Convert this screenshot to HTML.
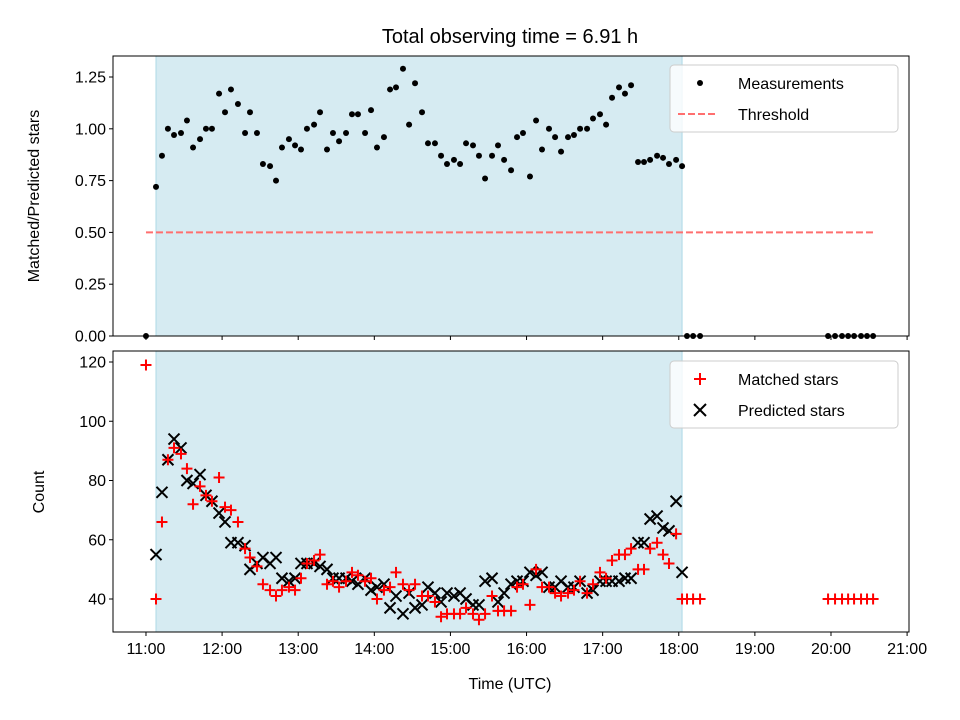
<!DOCTYPE html>
<html><head><meta charset="utf-8"><style>
html,body{margin:0;padding:0;background:#fff;}
svg{display:block;font-family:"Liberation Sans","DejaVu Sans",sans-serif;}
</style></head><body>
<svg id="chart" width="960" height="720" viewBox="0 0 960 720"></svg>
<script>
// minutes after 11:00 UTC
const times = [0,7.9,12.6,17.3,22.1,27.6,32.3,37.1,42.6,47.3,52.0,57.6,62.3,67.0,72.5,78.1,82.0,87.5,92.2,97.8,102.5,107.2,112.7,117.5,122.2,126.9,132.5,137.2,142.7,147.4,152.2,157.7,162.4,167.1,172.7,177.4,182.1,187.6,192.4,197.1,202.6,207.4,212.1,217.6,222.3,227.8,232.6,237.3,242.8,247.6,252.3,257.8,262.5,267.3,272.8,277.5,282.3,287.8,292.5,297.2,302.7,307.5,312.2,317.7,322.5,327.2,332.7,337.4,342.2,347.7,352.4,357.9,362.7,367.4,372.9,377.6,382.4,387.9,392.6,397.4,402.9,407.6,412.3,417.9,422.6,426.5,431.3,436.8,537.7,543.2,548.7,553.5,558.2,563.7,568.4,573.2];
const ratios = [0,0.72,0.87,1.0,0.97,0.98,1.04,0.91,0.95,1.0,1.0,1.17,1.08,1.19,1.12,0.98,1.08,0.98,0.83,0.82,0.75,0.91,0.95,0.92,0.90,1.0,1.02,1.08,0.90,0.98,0.94,0.98,1.07,1.07,0.98,1.09,0.91,0.96,1.19,1.20,1.29,1.02,1.22,1.08,0.93,0.93,0.87,0.83,0.85,0.83,0.93,0.92,0.87,0.76,0.87,0.92,0.85,0.80,0.96,0.98,0.77,1.04,0.90,1.0,0.96,0.89,0.96,0.97,1.0,1.0,1.05,1.07,1.02,1.15,1.20,1.17,1.21,0.84,0.84,0.85,0.87,0.86,0.83,0.85,0.82,0,0,0,0,0,0,0,0,0,0,0];
const matched = [119,40,66,87,91,89,84,72,78,75,73,81,71,70,66,57,54,51,45,43,41,43,44,43,47,52,53,55,45,46,44,46,49,48,46,47,40,43,44,49,45,43,45,41,41,39,34,35,35,35,37,35,33,35,41,36,36,36,44,45,38,50,44,44,42,41,42,43,46,42,45,49,47,53,55,55,57,50,50,57,59,55,52,62,40,40,40,40,40,40,40,40,40,40,40,40];
const predicted = [null,55,76,87,94,91,80,79,82,75,73,69,66,59,59,58,50,52,54,52,54,47,46,47,52,52,52,51,50,47,47,47,46,45,47,43,44,45,37,41,35,42,37,38,44,42,39,42,41,42,40,38,38,46,47,39,42,45,46,46,49,48,49,44,44,46,44,44,46,42,43,46,46,46,46,47,47,59,59,67,68,64,63,73,49,null,null,null,null,null,null,null,null,null,null,null];
const shadeStart = 7.9, shadeEnd = 422.6, threshold = 0.5, thrStart = 0, thrEnd = 573.2;
const xTickLabels = ["11:00","12:00","13:00","14:00","15:00","16:00","17:00","18:00","19:00","20:00","21:00"];
const topTicks = [0,0.25,0.5,0.75,1.0,1.25];
const botTicks = [40,60,80,100,120];

const NS="http://www.w3.org/2000/svg";
const svg=document.getElementById('chart');
function mk(tag,attrs,parent){const e=document.createElementNS(NS,tag);for(const k in attrs)e.setAttribute(k,attrs[k]);(parent||svg).appendChild(e);return e;}
const L=113,R=909;
const xMin=-26.0,xMax=601.5;
const X=m=>L+(m-xMin)/(xMax-xMin)*(R-L);
const T1=56,B1=336,T2=351,B2=632;
const Y1=v=>B1-(v-0)/(1.3514-0)*(B1-T1);
const Y2=v=>599-(v-40)*(237/80);

let t=mk('text',{x:510,y:43,'font-size':20,'text-anchor':'middle',fill:'#000'});t.textContent='Total observing time = 6.91 h';



function panel(T,B,name){
  const g=mk('g',{});
  
  
  const sh=mk('rect',{x:X(shadeStart),y:T,width:X(shadeEnd)-X(shadeStart),height:B-T,fill:'#add8e6','fill-opacity':0.5,stroke:'#add8e6','stroke-width':1},g);
  
  
  return g;
}
const g1=panel(T1,B1,'ratio-panel');
const g2=panel(T2,B2,'count-panel');

const thr=mk('line',{x1:X(thrStart),x2:X(thrEnd),y1:Y1(threshold),y2:Y1(threshold),stroke:'#ff6f6f','stroke-width':2,'stroke-dasharray':'7,3'},g1);



times.forEach((m,i)=>{
  const c=mk('circle',{cx:X(m),cy:Y1(ratios[i]),r:3,fill:'#000'},g1);
  
  
});

times.forEach((m,i)=>{
  if(predicted[i]!=null){
    const x=X(m),y=Y2(predicted[i]),s=5.5;
    const p=mk('path',{d:`M${x-s},${y-s}L${x+s},${y+s}M${x-s},${y+s}L${x+s},${y-s}`,stroke:'#000','stroke-width':2,fill:'none'},g2);
    
    
  }
});
times.forEach((m,i)=>{
  const x=X(m),y=Y2(matched[i]),s=5.5;
  const p=mk('path',{d:`M${x-s},${y}L${x+s},${y}M${x},${y-s}L${x},${y+s}`,stroke:'#ff0000','stroke-width':2,fill:'none'},g2);
  
  
});

[[T1,B1],[T2,B2]].forEach(([T,B])=>{const f=mk('rect',{x:L,y:T,width:R-L,height:B-T,fill:'none',stroke:'#000','stroke-width':1});
  
  });

xTickLabels.forEach((lab,i)=>{
  const x=X(i*60);
  mk('line',{x1:x,x2:x,y1:B1,y2:B1+4,stroke:'#000'});
  mk('line',{x1:x,x2:x,y1:B2,y2:B2+4,stroke:'#000'});
  const tx=mk('text',{x:x,y:B2+22,'font-size':16,'text-anchor':'middle'});tx.textContent=lab;
  
  
});
topTicks.forEach(v=>{
  const y=Y1(v);mk('line',{x1:L-4,x2:L,y1:y,y2:y,stroke:'#000'});
  const tx=mk('text',{x:L-7,y:y+5.5,'font-size':16,'text-anchor':'end'});tx.textContent=v.toFixed(2);
  
  
});
botTicks.forEach(v=>{
  const y=Y2(v);mk('line',{x1:L-4,x2:L,y1:y,y2:y,stroke:'#000'});
  const tx=mk('text',{x:L-7,y:y+5.5,'font-size':16,'text-anchor':'end'});tx.textContent=v;
  
  
});
let a=mk('text',{x:510,y:689,'font-size':16,'text-anchor':'middle'});a.textContent='Time (UTC)';


a=mk('text',{x:0,y:0,'font-size':16,'text-anchor':'middle',transform:'translate(39,196) rotate(-90)'});a.textContent='Matched/Predicted stars';


a=mk('text',{x:0,y:0,'font-size':16,'text-anchor':'middle',transform:'translate(44,492) rotate(-90)'});a.textContent='Count';



function legend(y0,name,items){
  const g=mk('g',{});
  
  
  mk('rect',{x:670,y:y0,width:228,height:67,rx:4,fill:'#fff','fill-opacity':0.8,stroke:'#ccc'},g);
  items.forEach((it,i)=>{
    const cy=y0+18+i*31;
    it.draw(g,690,cy);
    const tx=mk('text',{x:738,y:cy+6,'font-size':16},g);tx.textContent=it.label;
    
    
  });
}
legend(65,'legend-top',[
  {label:'Measurements',draw:(g,x,y)=>mk('circle',{cx:x+10,cy:y,r:3,fill:'#000'},g)},
  {label:'Threshold',draw:(g,x,y)=>mk('line',{x1:x-12,x2:x+28,y1:y,y2:y,stroke:'#ff6f6f','stroke-width':2,'stroke-dasharray':'7,3'},g)}
]);
legend(361,'legend-bottom',[
  {label:'Matched stars',draw:(g,x,y)=>mk('path',{d:`M${x+4},${y}L${x+16},${y}M${x+10},${y-6}L${x+10},${y+6}`,stroke:'#f00','stroke-width':2},g)},
  {label:'Predicted stars',draw:(g,x,y)=>mk('path',{d:`M${x+4},${y-6}L${x+16},${y+6}M${x+4},${y+6}L${x+16},${y-6}`,stroke:'#000','stroke-width':2},g)}
]);
</script>
</body></html>
